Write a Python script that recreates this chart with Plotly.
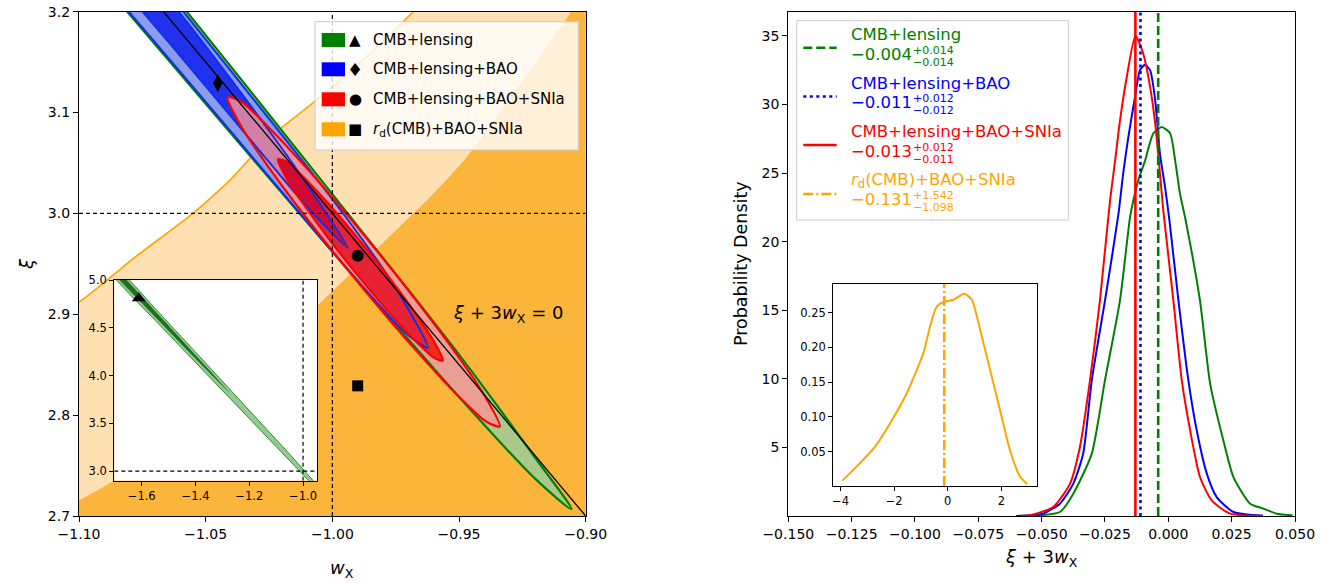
import plotly.graph_objects as go

FONT = "DejaVu Sans"
FIG_W, FIG_H = 1336, 584

# ---------------- LEFT PANEL DATA (w_X, s = xi + 3 w_X) ----------------
green2_w = [-1.80, -1.70, -1.55, -1.40, -1.25, -1.10, -1.06, -1.00, -0.95, -0.92, -0.9056]
green2_s_hi = [-0.010, 0.060, 0.052, 0.045, 0.037, 0.030, 0.028, 0.019, 0.010, -0.002, -0.010]
green2_s_lo = [-0.010, -0.080, -0.072, -0.063, -0.053, -0.044, -0.042, -0.038, -0.032, -0.023, -0.010]

green1_w = [-1.85, -1.72, -1.60, -1.48, -1.36, -1.30, -1.272]
green1_s_hi = [-0.010, 0.032, 0.028, 0.022, 0.013, 0.006, 0.000]
green1_s_lo = [-0.010, -0.048, -0.042, -0.032, -0.018, -0.008, 0.000]

blue2_w = [-1.16, -1.12, -1.08, -1.04, -1.00, -0.98, -0.97, -0.9623]
blue2_s_hi = [-0.008, 0.028, 0.026, 0.021, 0.014, 0.005, -0.005, -0.020]
blue2_s_lo = [-0.008, -0.044, -0.041, -0.039, -0.038, -0.035, -0.031, -0.020]

blue1_w = [-1.14, -1.10, -1.06, -1.03, -1.015, -1.005, -0.9939]
blue1_s_hi = [-0.002, 0.019, 0.018, 0.009, 0.002, -0.005, -0.016]
blue1_s_lo = [-0.002, -0.024, -0.024, -0.024, -0.024, -0.022, -0.016]

red2_w = [-1.0413, -1.0359, -1.0252, -1.0091, -0.9876, -0.9661, -0.9500, -0.9393, -0.9339]
red2_s_hi = [-0.009, 0.0030, 0.0098, 0.0146, 0.0160, 0.0128, 0.0070, -0.0012, -0.013]
red2_s_lo = [-0.009, -0.0218, -0.0298, -0.0356, -0.0380, -0.0366, -0.0318, -0.0242, -0.013]

red1_w = [-1.0215, -1.0182, -1.0117, -1.0020, -0.98895, -0.9759, -0.9662, -0.9597, -0.9564]
red1_s_hi = [-0.011, -0.0030, 0.0016, 0.0048, 0.0055, 0.0032, -0.0012, -0.0070, -0.015]
red1_s_lo = [-0.011, -0.0194, -0.0248, -0.0292, -0.0315, -0.0308, -0.0276, -0.0226, -0.015]

# orange (r_d(CMB)+BAO+SNIa) contour boundaries, (w_X, xi)
orange2_w = [-1.13, -1.10, -1.0779, -1.055, -1.0404, -1.0258, -1.0077, -0.988, -0.968, -0.955, -0.94, -0.85, -0.85, -1.13]
orange2_xi = [2.870, 2.912, 2.9565, 3.000, 3.033, 3.0728, 3.1095, 3.152, 3.200, 3.235, 3.27, 3.27, 2.60, 2.60]
orange1_w = [-1.13, -1.10, -1.0858, -1.05, -1.0061, -0.9615, -0.9469, -0.925, -0.908, -0.895, -0.88, -0.85, -0.85, -1.13]
orange1_xi = [2.685, 2.715, 2.735, 2.800, 2.907, 3.015, 3.055, 3.130, 3.190, 3.240, 3.29, 3.29, 2.60, 2.60]

# best-fit points
bf_names = ["CMB+lensing", "CMB+lensing+BAO", "CMB+lensing+BAO+SNIa", "r_d(CMB)+BAO+SNIa"]
bf_w = [-1.611, -1.0452, -0.990, -0.990]
bf_xi = [4.81, 3.129, 2.958, 2.829]

W_REF, XI_REF = -1.0, 3.0

# ---------------- RIGHT PANEL DATA (xi + 3 w_X densities) ----------------
red_x = [-0.058, -0.0546, -0.0454, -0.0388, -0.0349, -0.0309, -0.0270, -0.0230, -0.0210, -0.0191, -0.0164,
         -0.0130, -0.0099, -0.0072, -0.0053, -0.0040, -0.0020, 0.0020, 0.0053, 0.0086, 0.0125, 0.0171,
         0.0244, 0.0374]
red_y = [0.0, 0.05, 0.66, 2.36, 5.03, 9.9, 15.7, 23.0, 25.9, 28.8, 32.0,
         35.0, 33.7, 31.3, 28.8, 26.4, 22.3, 15.7, 9.9, 6.25, 2.84, 1.14,
         0.17, 0.01]
blue_x = [-0.060, -0.0495, -0.0428, -0.0375, -0.0336, -0.0302, -0.0250, -0.0197, -0.0178, -0.0158, -0.0132,
          -0.0112, -0.0092, -0.0072, -0.0053, -0.0033, -0.0013, 0.0004, 0.0040, 0.0079, 0.0112, 0.0152,
          0.0191, 0.0257, 0.0374]
blue_y = [0.0, 0.17, 0.90, 2.36, 4.55, 9.9, 15.7, 22.0, 25.0, 27.6, 30.5,
          32.5, 32.9, 32.5, 30.5, 26.4, 24.0, 21.6, 15.7, 9.9, 6.25, 3.09,
          1.38, 0.29, 0.01]
green_x = [-0.060, -0.0506, -0.0428, -0.0375, -0.0302, -0.0250, -0.0191, -0.0151, -0.0138, -0.0118, -0.0092,
           -0.0059, -0.0026, 0.0007, 0.0027, 0.0046, 0.0068, 0.0125, 0.0165, 0.0217, 0.0257, 0.0323,
           0.0375, 0.0428, 0.0490]
green_y = [0.0, 0.05, 0.29, 1.63, 4.55, 9.9, 15.7, 21.8, 23.0, 24.5, 25.9,
           27.9, 28.35, 27.9, 25.9, 23.5, 21.6, 15.7, 9.65, 5.52, 2.84, 0.90,
           0.54, 0.17, 0.05]
orange_x = [-3.93, -3.40, -2.71, -2.15, -1.53, -0.91, -0.66, -0.41, -0.10, 0.21, 0.62, 0.90, 1.21, 1.58,
            1.95, 2.32, 2.70, 2.97]
orange_y = [0.0083, 0.0284, 0.0572, 0.0908, 0.1340, 0.1916, 0.2299, 0.2586, 0.2658, 0.2683, 0.2769, 0.2683,
            0.2251, 0.1676, 0.1100, 0.0524, 0.0140, 0.0031]

means = [-0.004, -0.011, -0.013, -0.131]
err_hi = ["+0.014", "+0.012", "+0.012", "+1.542"]
err_lo = ["\u22120.014", "\u22120.012", "\u22120.011", "\u22121.098"]

# axis ranges
LX = [-1.10, -0.90]
LY = [2.7, 3.2]
IX = [-1.702, -0.947]
IY = [2.899, 5.0]
RX = [-0.150, 0.050]
RY = [0.0, 36.77]
JX = [-4.27, 3.32]
JY = [0.0006, 0.291]

C_GREEN, C_BLUE, C_RED, C_ORANGE = "#008000", "#0000FF", "#FF0000", "#FFA500"


def band_poly(w, s_hi, s_lo):
    xs = list(w) + list(w[-2::-1])
    ss = list(s_hi) + list(s_lo[-2::-1])
    xi = [s - 3.0 * x for x, s in zip(xs, ss)]
    return xs, xi


fig = go.Figure()


def add_fill(xs, ys, color, xa="x", ya="y"):
    fig.add_trace(go.Scatter(x=xs, y=ys, mode="lines", fill="toself", fillcolor=color,
                             line=dict(width=0, shape="spline", smoothing=0.8),
                             xaxis=xa, yaxis=ya, hoverinfo="skip", showlegend=False))


def add_outline(xs, ys, color, width, xa="x", ya="y"):
    fig.add_trace(go.Scatter(x=xs, y=ys, mode="lines",
                             line=dict(width=width, color=color, shape="spline", smoothing=0.8),
                             xaxis=xa, yaxis=ya, hoverinfo="skip", showlegend=False))


# ---- left main panel ----
fig.add_trace(go.Scatter(x=orange2_w, y=orange2_xi, mode="lines", fill="toself", fillcolor="#FEE0B3",
                         line=dict(color=C_ORANGE, width=1.6, shape="spline", smoothing=0.5),
                         hoverinfo="skip", showlegend=False))
fig.add_trace(go.Scatter(x=orange1_w, y=orange1_xi, mode="lines", fill="toself", fillcolor="#FCB53B",
                         line=dict(color="#FCB03A", width=1.2, shape="spline", smoothing=0.5),
                         hoverinfo="skip", showlegend=False))

g2x, g2y = band_poly(green2_w, green2_s_hi, green2_s_lo)
g1x, g1y = band_poly(green1_w, green1_s_hi, green1_s_lo)
b2x, b2y = band_poly(blue2_w, blue2_s_hi, blue2_s_lo)
b1x, b1y = band_poly(blue1_w, blue1_s_hi, blue1_s_lo)
r2x, r2y = band_poly(red2_w, red2_s_hi, red2_s_lo)
r1x, r1y = band_poly(red1_w, red1_s_hi, red1_s_lo)

# fills first
add_fill(g2x, g2y, "#A9C88A")
add_fill(b2x, b2y, "#8C9CEC")
add_fill(b1x, b1y, "#2132EE")
# red 2 sigma ring (outer with inner hole) and 1 sigma core
add_fill(r2x + [None] + r1x[::-1], r2y + [None] + r1y[::-1], "rgba(251,147,150,0.8)")
add_fill(r1x, r1y, "rgba(255,0,0,0.78)")
# then contour lines
add_outline(g2x, g2y, C_GREEN, 2.2)
add_outline(b2x, b2y, "#1030E8", 2.0)
add_outline(b1x, b1y, "#1030E8", 2.0)
add_outline(r2x, r2y, C_RED, 2.2)
add_outline(r1x, r1y, C_RED, 2.2)

# degeneracy line xi + 3 w = 0
fig.add_trace(go.Scatter(x=LX, y=[-3.0 * v for v in LX], mode="lines", line=dict(color="black", width=1.3),
                         hoverinfo="skip", showlegend=False))
# reference dashed lines
fig.add_trace(go.Scatter(x=[W_REF, W_REF], y=LY, mode="lines",
                         line=dict(color="black", width=1.2, dash="4px,3px"), hoverinfo="skip", showlegend=False))
fig.add_trace(go.Scatter(x=LX, y=[XI_REF, XI_REF], mode="lines",
                         line=dict(color="black", width=1.2, dash="4px,3px"), hoverinfo="skip", showlegend=False))
# best-fit markers
fig.add_trace(go.Scatter(x=bf_w[1:], y=bf_xi[1:], mode="markers",
                         marker=dict(symbol=["diamond-tall", "circle", "square"], size=[13, 12, 11], color="black",
                                     opacity=1, line=dict(width=0)),
                         hoverinfo="skip", showlegend=False))

# ---- left inset ----
add_fill(g2x, g2y, "rgba(0,128,0,0.42)", "x3", "y3")
add_fill(g1x, g1y, "#1F6F1F", "x3", "y3")
add_outline(g2x, g2y, "#2E8B2E", 1.0, "x3", "y3")
fig.add_trace(go.Scatter(x=[W_REF, W_REF], y=IY, mode="lines", xaxis="x3", yaxis="y3",
                         line=dict(color="black", width=1.2, dash="4px,3px"), hoverinfo="skip", showlegend=False))
fig.add_trace(go.Scatter(x=IX, y=[XI_REF, XI_REF], mode="lines", xaxis="x3", yaxis="y3",
                         line=dict(color="black", width=1.2, dash="4px,3px"), hoverinfo="skip", showlegend=False))
fig.add_trace(go.Scatter(x=bf_w[:1], y=bf_xi[:1], mode="markers", xaxis="x3", yaxis="y3",
                         marker=dict(symbol="triangle-up", size=12, color="black", opacity=1, line=dict(width=0)),
                         hoverinfo="skip", showlegend=False))

# ---- right main panel ----
for xs, ys, c in [(green_x, green_y, C_GREEN), (blue_x, blue_y, C_BLUE), (red_x, red_y, C_RED)]:
    fig.add_trace(go.Scatter(x=xs, y=ys, mode="lines", xaxis="x2", yaxis="y2",
                             line=dict(color=c, width=2, shape="spline", smoothing=0.6),
                             hoverinfo="skip", showlegend=False))
dash_styles = ["9px,4px", "3px,3.5px", "solid", "10px,3px,2px,3px"]
for m, c, d in zip(means[:3], [C_GREEN, C_BLUE, C_RED], dash_styles[:3]):
    fig.add_trace(go.Scatter(x=[m, m], y=RY, mode="lines", xaxis="x2", yaxis="y2",
                             line=dict(color=c, width=2.6, dash=d), hoverinfo="skip", showlegend=False))

# ---- right inset ----
fig.add_trace(go.Scatter(x=orange_x, y=orange_y, mode="lines", xaxis="x4", yaxis="y4",
                         line=dict(color=C_ORANGE, width=2, shape="spline", smoothing=0.6),
                         hoverinfo="skip", showlegend=False))
fig.add_trace(go.Scatter(x=[means[3], means[3]], y=JY, mode="lines", xaxis="x4", yaxis="y4",
                         line=dict(color=C_ORANGE, width=2.6, dash=dash_styles[3]),
                         hoverinfo="skip", showlegend=False))


def px(x):
    return x / FIG_W


def py(y):
    return 1 - y / FIG_H


axis_common = dict(showline=True, linecolor="black", linewidth=1.2, mirror=True, ticks="outside",
                   ticklen=5, tickwidth=1.2, tickcolor="black", showgrid=False, zeroline=False,
                   automargin=False, tickfont=dict(family=FONT, size=14, color="black"))
inset_common = dict(axis_common, tickfont=dict(family=FONT, size=11.5, color="black"), ticklen=4)

fig.update_layout(
    width=FIG_W, height=FIG_H, margin=dict(l=0, r=0, t=0, b=0, pad=0, autoexpand=False),
    paper_bgcolor="white", plot_bgcolor="white", showlegend=False,
    font=dict(family=FONT, color="black"),
    xaxis=dict(axis_common, domain=[px(79), px(585.7)], range=LX, anchor="y",
               tickvals=[-1.10, -1.05, -1.00, -0.95, -0.90], tickformat=".2f"),
    yaxis=dict(axis_common, domain=[py(516), py(11.6)], range=LY, anchor="x",
               tickvals=[2.7, 2.8, 2.9, 3.0, 3.1, 3.2], tickformat=".1f"),
    xaxis2=dict(axis_common, domain=[px(788.3), px(1295)], range=RX, anchor="y2",
                tickvals=[-0.150, -0.125, -0.100, -0.075, -0.050, -0.025, 0.000, 0.025, 0.050], tickformat=".3f"),
    yaxis2=dict(axis_common, domain=[py(516), py(11.6)], range=RY, anchor="x2",
                tickvals=[5, 10, 15, 20, 25, 30, 35]),
    xaxis3=dict(inset_common, domain=[px(114.3), px(317.3)], range=IX, anchor="y3",
                tickvals=[-1.6, -1.4, -1.2, -1.0], tickformat=".1f"),
    yaxis3=dict(inset_common, domain=[py(480.7), py(280)], range=IY, anchor="x3",
                tickvals=[3.0, 3.5, 4.0, 4.5, 5.0], tickformat=".1f"),
    xaxis4=dict(inset_common, domain=[px(833.3), px(1036.7)], range=JX, anchor="y4",
                tickvals=[-4, -2, 0, 2]),
    yaxis4=dict(inset_common, domain=[py(486), py(284)], range=JY, anchor="x4",
                tickvals=[0.05, 0.10, 0.15, 0.20, 0.25], tickformat=".2f"),
)

shapes = []
annotations = []

# left legend
shapes.append(dict(type="rect", xref="paper", yref="paper", x0=px(315), x1=px(578.3), y0=py(150), y1=py(21.7),
                   fillcolor="rgba(255,255,255,0.8)", line=dict(color="#CCCCCC", width=1), layer="above"))
leg_colors = [C_GREEN, C_BLUE, C_RED, C_ORANGE]
glyphs = ["\u25B2", "\u2666", "\u25CF", "\u25A0"]
glyph_sizes = [15, 18, 15, 15]
labels_left = ["CMB+lensing", "CMB+lensing+BAO", "CMB+lensing+BAO+SNIa",
               "<i>r</i><sub>d</sub>(CMB)+BAO+SNIa"]
for i, yc in enumerate([40, 69.3, 99.3, 129.3]):
    shapes.append(dict(type="rect", xref="paper", yref="paper", x0=px(321.7), x1=px(345), y0=py(yc + 7),
                       y1=py(yc - 7), fillcolor=leg_colors[i], line=dict(width=0), layer="above"))
    annotations.append(dict(xref="paper", yref="paper", x=px(355), y=py(yc), text=glyphs[i], showarrow=False,
                            xanchor="center", yanchor="middle",
                            font=dict(family=FONT, size=glyph_sizes[i], color="black")))
    annotations.append(dict(xref="paper", yref="paper", x=px(371), y=py(yc), text=labels_left[i], showarrow=False,
                            xanchor="left", yanchor="middle", font=dict(family=FONT, size=15, color="black")))

# right legend
shapes.append(dict(type="rect", xref="paper", yref="paper", x0=px(796.7), x1=px(1068.3), y0=py(220), y1=py(20.7),
                   fillcolor="rgba(255,255,255,0.8)", line=dict(color="#CCCCCC", width=1), layer="above"))
labels_right = ["CMB+lensing", "CMB+lensing+BAO", "CMB+lensing+BAO+SNIa", "<i>r</i><sub>d</sub>(CMB)+BAO+SNIa"]
name_y = [35, 83.3, 131.7, 180]
line_y = [47.7, 96.5, 145, 194]
for i in range(4):
    d = dash_styles[i]
    shapes.append(dict(type="line", xref="paper", yref="paper", x0=px(803.3), x1=px(836.7), y0=py(line_y[i]),
                       y1=py(line_y[i]), line=dict(color=leg_colors[i], width=2.6,
                                                   dash=None if d == "solid" else d), layer="above"))
    annotations.append(dict(xref="paper", yref="paper", x=px(849), y=py(name_y[i]), text=labels_right[i],
                            showarrow=False, xanchor="left", yanchor="middle",
                            font=dict(family=FONT, size=16.5, color=leg_colors[i])))
    annotations.append(dict(xref="paper", yref="paper", x=px(849), y=py(name_y[i] + 19.5),
                            text="\u2212%.3f" % abs(means[i]), showarrow=False, xanchor="left", yanchor="middle",
                            font=dict(family=FONT, size=16.5, color=leg_colors[i])))
    annotations.append(dict(xref="paper", yref="paper", x=px(911), y=py(name_y[i] + 15.5), text=err_hi[i],
                            showarrow=False, xanchor="left", yanchor="middle",
                            font=dict(family=FONT, size=11, color=leg_colors[i])))
    annotations.append(dict(xref="paper", yref="paper", x=px(911), y=py(name_y[i] + 27.5), text=err_lo[i],
                            showarrow=False, xanchor="left", yanchor="middle",
                            font=dict(family=FONT, size=11, color=leg_colors[i])))

# in-plot text
annotations.append(dict(xref="x", yref="y", x=-0.9305, y=2.90, text="<i>\u03BE</i> + 3<i>w</i><sub>X</sub> = 0",
                        showarrow=False, xanchor="center", yanchor="middle",
                        font=dict(family=FONT, size=18, color="black")))
# axis titles
annotations.append(dict(xref="paper", yref="paper", x=px(342), y=py(569), text="<i>w</i><sub>X</sub>",
                        showarrow=False, xanchor="center", yanchor="middle", font=dict(family=FONT, size=18)))
annotations.append(dict(xref="paper", yref="paper", x=px(26), y=py(264), text="<i>\u03BE</i>", textangle=-90,
                        showarrow=False, xanchor="center", yanchor="middle", font=dict(family=FONT, size=18)))
annotations.append(dict(xref="paper", yref="paper", x=px(1041), y=py(558),
                        text="<i>\u03BE</i> + 3<i>w</i><sub>X</sub>",
                        showarrow=False, xanchor="center", yanchor="middle", font=dict(family=FONT, size=18)))
annotations.append(dict(xref="paper", yref="paper", x=px(741), y=py(264), text="Probability Density",
                        textangle=-90, showarrow=False, xanchor="center", yanchor="middle",
                        font=dict(family=FONT, size=17.5)))

fig.update_layout(shapes=shapes, annotations=annotations)
fig.write_html("out.html")
